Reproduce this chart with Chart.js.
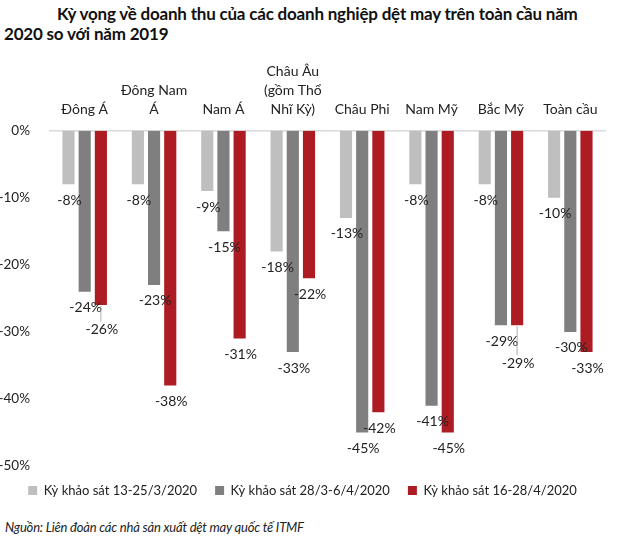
<!DOCTYPE html>
<html>
<head>
<meta charset="utf-8">
<script src="https://cdn.jsdelivr.net/npm/chart.js@4.4.1/dist/chart.umd.min.js"></script>
<style>
  body { margin: 0; background: #fff; width: 620px; height: 548px; position: relative; overflow: hidden; font-family: Lato, sans-serif; }
  #title { position: absolute; left: 4px; top: 4px; width: 612px; font-weight: bold; font-size: 17px; line-height: 20px; text-indent: 53px; color: #111; letter-spacing: -0.2px; }
  #wrap { position: absolute; left: 0; top: 58px; width: 620px; height: 449px; }
  #source { position: absolute; left: 5px; top: 519px; font-style: italic; font-size: 13px; color: #222; letter-spacing: -0.2px; }
</style>
</head>
<body>
<div id="title">Kỳ vọng về doanh thu của các doanh nghiệp dệt may trên toàn cầu năm 2020 so với năm 2019</div>
<div id="wrap"><canvas id="revChart"></canvas></div>
<div id="source">Nguồn: Liên đoàn các nhà sản xuất dệt may quốc tế ITMF</div>
<script>
const categories = [['Đông Á'], ['Đông Nam', 'Á'], ['Nam Á'], ['Châu Âu', '(gồm Thổ', 'Nhĩ Kỳ)'], ['Châu Phi'], ['Nam Mỹ'], ['Bắc Mỹ'], ['Toàn cầu']];
const seriesNames = ['Kỳ khảo sát 13-25/3/2020', 'Kỳ khảo sát 28/3-6/4/2020', 'Kỳ khảo sát 16-28/4/2020'];
const survey1 = [-8, -8, -9, -18, -13, -8, -8, -10];
const survey2 = [-24, -23, -15, -33, -45, -41, -29, -30];
const survey3 = [-26, -38, -31, -22, -42, -45, -29, -33];
const yTicks = [0, -10, -20, -30, -40, -50];

const colors = ['#bfbfbf', '#7f7f7f', '#ad1c22'];

// value labels under each bar, pushed down (with a leader line) when they collide
const barLabels = {
  id: 'barLabels',
  afterDatasetsDraw(chart) {
    const ctx = chart.ctx;
    ctx.save();
    ctx.font = '14px Lato';
    ctx.textAlign = 'center';
    ctx.textBaseline = 'middle';
    ctx.fillStyle = '#222';
    const h = 14;
    const placed = [];
    const n = chart.data.labels.length;
    for (let i = 0; i < n; i++) {
      chart.data.datasets.forEach((ds, di) => {
        const bar = chart.getDatasetMeta(di).data[i];
        const text = ds.data[i] + '%';
        const w = ctx.measureText(text).width;
        const x = bar.x;
        let y = bar.y + 16;
        let moved = false;
        placed.forEach(p => {
          if (Math.abs(p.x - x) < (p.w + w) / 2 && Math.abs(p.y - y) < h + 2) {
            y = p.y + h + 8;
            moved = true;
          }
        });
        if (moved) {
          ctx.strokeStyle = '#999';
          ctx.lineWidth = 0.8;
          ctx.beginPath();
          ctx.moveTo(x, bar.y + 1);
          ctx.lineTo(x, y - h / 2 - 1);
          ctx.stroke();
        }
        ctx.fillText(text, x + 1, y);
        placed.push({ x, y, w });
      });
    }
    ctx.restore();
  }
};

const ctx = document.getElementById('revChart').getContext('2d');
new Chart(ctx, {
  type: 'bar',
  data: {
    labels: categories,
    datasets: [
      { label: seriesNames[0], data: survey1, backgroundColor: colors[0] },
      { label: seriesNames[1], data: survey2, backgroundColor: colors[1] },
      { label: seriesNames[2], data: survey3, backgroundColor: colors[2] }
    ]
  },
  options: {
    responsive: true,
    maintainAspectRatio: false,
    animation: false,
    categoryPercentage: 0.7,
    barPercentage: 0.75,
    layout: { padding: { left: 0, right: 15, top: 0, bottom: 0 } },
    plugins: {
      legend: {
        position: 'bottom',
        labels: {
          boxWidth: 9,
          boxHeight: 9,
          padding: 18,
          color: '#222',
          font: { family: 'Lato', size: 13 }
        }
      },
      tooltip: { enabled: false }
    },
    scales: {
      x: {
        position: 'top',
        grid: { display: false },
        border: { display: true, color: '#d9d9d9', width: 1.5 },
        ticks: {
          color: '#222',
          font: { family: 'Lato', size: 14, lineHeight: 1.35 },
          maxRotation: 0,
          autoSkip: false,
          padding: 4
        }
      },
      y: {
        min: -50,
        max: 0,
        afterBuildTicks: axis => { axis.ticks = yTicks.map(v => ({ value: v })); },
        afterFit: axis => { axis.width = 50; },
        grid: { display: false },
        border: { display: false },
        ticks: {
          color: '#222',
          font: { family: 'Lato', size: 13.5 },
          padding: 12,
          callback: v => v + '%'
        }
      }
    }
  },
  plugins: [barLabels]
});
</script>
</body>
</html>
